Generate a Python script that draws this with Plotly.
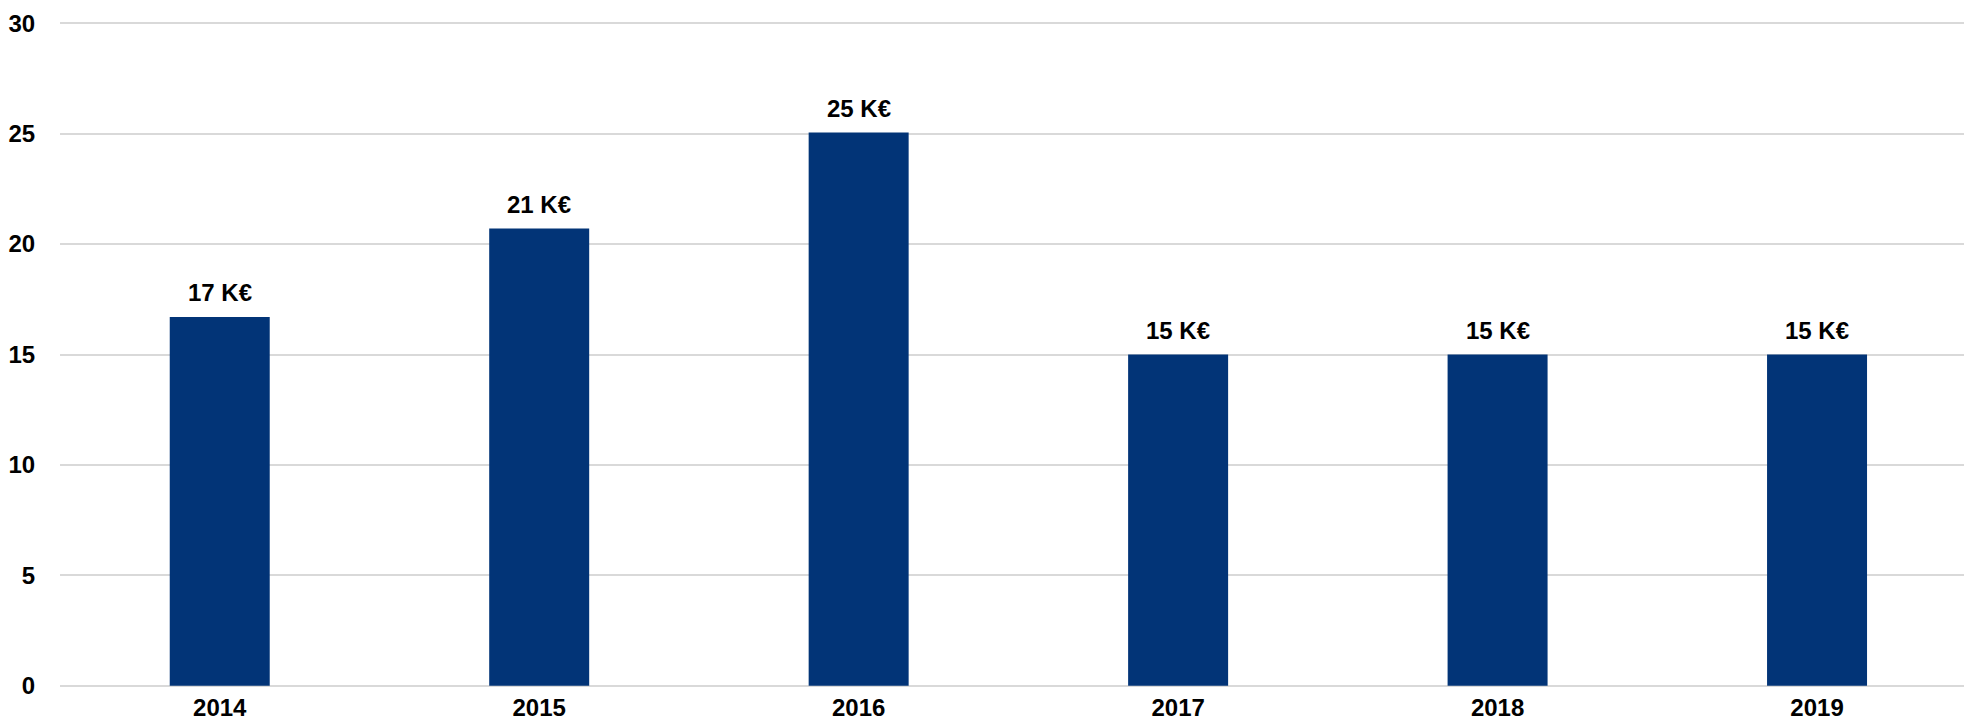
import plotly.graph_objects as go

# Annual amounts, in thousands of euros
years = ["2014", "2015", "2016", "2017", "2018", "2019"]
amounts = [16.7, 20.7, 25.05, 15.0, 15.0, 15.0]
y_ticks = [0, 5, 10, 15, 20, 25, 30]

BAR_COLOR = "#023477"
GRID_COLOR = "#d9d9d9"
FONT = "Liberation Sans, Arial, sans-serif"
FONT_SIZE = 24

fig = go.Figure(
    go.Bar(
        x=years,
        y=amounts,
        width=0.313,
        marker=dict(color=BAR_COLOR, line=dict(width=0)),
        hoverinfo="skip",
    )
)

# Value labels above each bar, rounded to whole K€ (x given as category index)
for i, val in enumerate(amounts):
    fig.add_annotation(
        x=i, y=val, xref="x", yref="y", text=f"{round(val)} K€",
        showarrow=False, yanchor="bottom", yshift=9,
        font=dict(family=FONT, size=FONT_SIZE, color="#000000", weight="bold"),
    )

fig.update_layout(
    width=1964, height=724,
    margin=dict(l=60, r=0, t=21, b=36),
    paper_bgcolor="white", plot_bgcolor="white",
    showlegend=False,
    font=dict(family=FONT, color="#000000"),
)
fig.update_xaxes(
    type="category", range=[-0.5, 5.46], automargin=False,
    showgrid=False, zeroline=False, showline=False,
    ticks="", ticklabelstandoff=3,
    tickfont=dict(family=FONT, size=FONT_SIZE, color="#000000", weight="bold"),
)
fig.update_yaxes(
    range=[-0.1, 30.1], tickvals=y_ticks, automargin=False,
    showgrid=True, gridcolor=GRID_COLOR, gridwidth=2,
    zeroline=False, showline=False,
    ticks="outside", ticklen=19, tickcolor="rgba(0,0,0,0)",
    tickfont=dict(family=FONT, size=FONT_SIZE, color="#000000", weight="bold"),
)

fig.write_html("out.html")
